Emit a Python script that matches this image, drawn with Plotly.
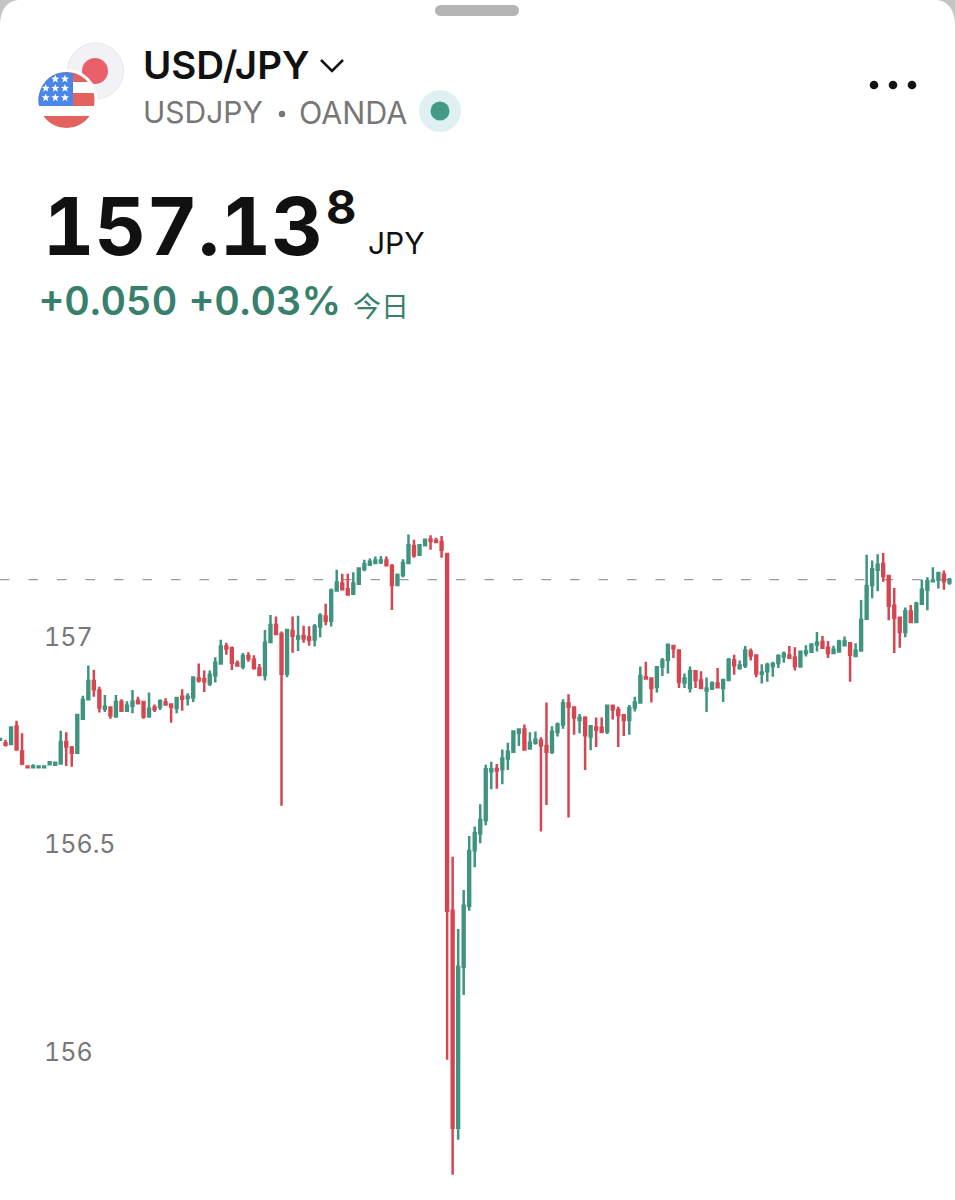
import numpy as np
import plotly.graph_objects as go

W = 955
H = 1200

#chart values, one candle per index
candle_index = list(range(173))

opens = [156.752, 156.744, 156.742, 156.784, 156.724, 156.688, 156.686, 156.686, 156.686, 156.693,
         156.692, 156.695, 156.747, 156.733, 156.721, 156.803, 156.850, 156.894, 156.871, 156.827,
         156.830, 156.808, 156.843, 156.822, 156.834, 156.846, 156.843, 156.808, 156.830, 156.832,
         156.842, 156.837, 156.829, 156.856, 156.853, 156.854, 156.900, 156.898, 156.888, 156.907,
         156.936, 156.977, 156.973, 156.936, 156.929, 156.954, 156.945, 156.924, 156.908, 156.988,
         157.029, 157.007, 156.911, 157.014, 156.996, 157.002, 156.999, 156.994, 157.025, 157.049,
         157.039, 157.112, 157.129, 157.115, 157.104, 157.128, 157.164, 157.174, 157.178, 157.180,
         157.184, 157.171, 157.125, 157.149, 157.178, 157.219, 157.198, 157.221, 157.235, 157.232,
         157.229, 157.200, 156.340, 155.817, 156.205, 156.352, 156.486, 156.527, 156.559, 156.676,
         156.682, 156.681, 156.707, 156.723, 156.769, 156.777, 156.731, 156.745, 156.750, 156.737,
         156.723, 156.771, 156.789, 156.840, 156.830, 156.800, 156.805, 156.760, 156.782, 156.781,
         156.772, 156.834, 156.824, 156.811, 156.800, 156.830, 156.842, 156.903, 156.900, 156.880,
         156.929, 156.945, 156.978, 156.967, 156.890, 156.877, 156.917, 156.895, 156.871, 156.876,
         156.888, 156.877, 156.896, 156.943, 156.925, 156.931, 156.965, 156.955, 156.911, 156.917,
         156.930, 156.937, 156.953, 156.955, 156.950, 156.929, 156.961, 156.964, 156.982, 156.988,
         156.974, 156.961, 156.965, 156.980, 156.985, 156.954, 156.967, 157.044, 157.125, 157.162,
         157.176, 157.147, 157.075, 157.046, 157.012, 157.061, 157.036, 157.080, 157.114, 157.134,
         157.138, 157.150, 157.131]

highs = [156.756, 156.752, 156.784, 156.798, 156.768, 156.689, 156.693, 156.690, 156.691, 156.700,
         156.698, 156.774, 156.770, 156.737, 156.814, 156.858, 156.931, 156.921, 156.880, 156.860,
         156.832, 156.860, 156.850, 156.845, 156.872, 156.856, 156.845, 156.866, 156.837, 156.850,
         156.852, 156.840, 156.854, 156.874, 156.864, 156.902, 156.936, 156.919, 156.919, 156.951,
         156.993, 156.986, 156.977, 156.943, 156.961, 156.963, 156.956, 156.935, 157.017, 157.053,
         157.049, 157.013, 157.019, 157.049, 157.051, 157.027, 157.026, 157.031, 157.057, 157.080,
         157.117, 157.162, 157.152, 157.152, 157.156, 157.166, 157.186, 157.189, 157.194, 157.195,
         157.194, 157.176, 157.153, 157.187, 157.247, 157.234, 157.223, 157.237, 157.245, 157.239,
         157.243, 157.200, 156.470, 156.296, 156.390, 156.520, 156.543, 156.597, 156.692, 156.699,
         156.694, 156.729, 156.745, 156.774, 156.780, 156.789, 156.770, 156.772, 156.758, 156.842,
         156.785, 156.794, 156.850, 156.862, 156.832, 156.814, 156.809, 156.788, 156.806, 156.806,
         156.836, 156.836, 156.832, 156.813, 156.836, 156.856, 156.929, 156.940, 156.900, 156.929,
         156.949, 156.983, 156.981, 156.967, 156.912, 156.929, 156.917, 156.917, 156.902, 156.893,
         156.925, 156.896, 156.949, 156.957, 156.943, 156.978, 156.972, 156.955, 156.934, 156.938,
         156.940, 156.958, 156.965, 156.978, 156.975, 156.967, 156.980, 156.983, 157.012, 157.002,
         156.990, 156.979, 156.993, 157.001, 156.987, 156.985, 157.089, 157.198, 157.184, 157.199,
         157.202, 157.149, 157.118, 157.049, 157.071, 157.077, 157.085, 157.138, 157.144, 157.168,
         157.156, 157.160, 157.142]

lows = [156.751, 156.736, 156.740, 156.729, 156.691, 156.685, 156.684, 156.684, 156.684, 156.691,
        156.691, 156.695, 156.689, 156.687, 156.721, 156.801, 156.850, 156.856, 156.818, 156.819,
        156.803, 156.808, 156.821, 156.822, 156.816, 156.840, 156.803, 156.808, 156.819, 156.824,
        156.835, 156.793, 156.816, 156.822, 156.835, 156.843, 156.890, 156.867, 156.882, 156.890,
        156.935, 156.957, 156.920, 156.930, 156.922, 156.940, 156.921, 156.906, 156.895, 156.986,
        157.005, 156.593, 156.903, 156.962, 156.966, 156.986, 156.979, 156.977, 156.999, 157.028,
        157.025, 157.110, 157.113, 157.101, 157.103, 157.126, 157.158, 157.173, 157.176, 157.176,
        157.172, 157.065, 157.125, 157.144, 157.176, 157.191, 157.197, 157.219, 157.210, 157.227,
        157.191, 155.981, 155.704, 155.788, 156.137, 156.340, 156.445, 156.503, 156.546, 156.633,
        156.634, 156.645, 156.679, 156.723, 156.737, 156.729, 156.730, 156.740, 156.531, 156.595,
        156.718, 156.760, 156.779, 156.565, 156.764, 156.768, 156.679, 156.727, 156.735, 156.769,
        156.766, 156.801, 156.735, 156.761, 156.764, 156.820, 156.840, 156.898, 156.842, 156.866,
        156.906, 156.912, 156.949, 156.877, 156.877, 156.866, 156.877, 156.876, 156.819, 156.872,
        156.877, 156.843, 156.895, 156.909, 156.921, 156.925, 156.943, 156.903, 156.888, 156.892,
        156.904, 156.925, 156.938, 156.949, 156.919, 156.929, 156.953, 156.961, 156.965, 156.974,
        156.949, 156.959, 156.963, 156.979, 156.892, 156.954, 156.967, 157.044, 157.093, 157.110,
        157.133, 157.040, 156.961, 156.974, 156.999, 157.035, 157.035, 157.080, 157.064, 157.133,
        157.117, 157.114, 157.126]

closes = [156.754, 156.740, 156.782, 156.729, 156.695, 156.686, 156.688, 156.688, 156.688, 156.698,
          156.697, 156.747, 156.736, 156.721, 156.812, 156.848, 156.894, 156.874, 156.830, 156.832,
          156.811, 156.843, 156.822, 156.834, 156.844, 156.840, 156.808, 156.827, 156.826, 156.845,
          156.837, 156.832, 156.853, 156.851, 156.856, 156.902, 156.895, 156.893, 156.909, 156.938,
          156.977, 156.972, 156.938, 156.931, 156.954, 156.948, 156.925, 156.908, 156.986, 157.029,
          157.007, 156.911, 157.017, 157.003, 157.001, 156.996, 156.993, 157.025, 157.051, 157.039,
          157.112, 157.131, 157.115, 157.102, 157.129, 157.165, 157.175, 157.181, 157.184, 157.184,
          157.173, 157.125, 157.149, 157.178, 157.221, 157.197, 157.221, 157.234, 157.231, 157.229,
          157.210, 156.340, 155.817, 156.205, 156.352, 156.484, 156.527, 156.559, 156.681, 156.681,
          156.678, 156.707, 156.723, 156.772, 156.777, 156.729, 156.745, 156.752, 156.739, 156.723,
          156.771, 156.789, 156.840, 156.832, 156.806, 156.805, 156.763, 156.785, 156.777, 156.771,
          156.834, 156.826, 156.812, 156.800, 156.828, 156.842, 156.906, 156.900, 156.877, 156.927,
          156.943, 156.981, 156.973, 156.892, 156.900, 156.917, 156.896, 156.877, 156.876, 156.888,
          156.879, 156.896, 156.945, 156.932, 156.931, 156.967, 156.955, 156.912, 156.914, 156.933,
          156.935, 156.954, 156.959, 156.950, 156.930, 156.964, 156.965, 156.982, 156.986, 156.974,
          156.961, 156.969, 156.989, 156.989, 156.957, 156.967, 157.041, 157.123, 157.163, 157.174,
          157.147, 157.075, 157.046, 157.012, 157.062, 157.036, 157.080, 157.114, 157.134, 157.136,
          157.154, 157.134, 157.138]

price_ticks = [156, 156.5, 157]
tick_labels = ["156", "156.5", "157"]
last_price = 157.138

GREEN = "#3f9480"
RED = "#d64550"
TEXT_GREEN = "#38806c"
GREY = "#777777"
INK = "#111111"
FLAG_RED = "#e2625e"


#px -> paper, everything in the header is placed by screenshot pixels
def px(x):
    return x / W


def py(y):
    return 1 - y / H


def circle(cx, cy, r, fill, line=None):
    return dict(type="circle", xref="paper", yref="paper", x0=px(cx - r), x1=px(cx + r),
                y0=py(cy + r), y1=py(cy - r), fillcolor=fill,
                line=dict(color=line or fill, width=1 if line else 0), layer="above")


def poly(points, fill):
    path = "M " + " L ".join(f"{px(a):.5f},{py(b):.5f}" for a, b in points) + " Z"
    return dict(type="path", xref="paper", yref="paper", path=path, fillcolor=fill,
                line=dict(width=0), layer="above")


#slice of the round flag between two heights
def band(cx, cy, r, y0, y1, fill, xmax=None):
    ys = np.linspace(y0, y1, 20)
    half = np.sqrt(np.maximum(r ** 2 - (ys - cy) ** 2, 0))
    right = cx + half
    if xmax is not None:
        right = np.minimum(right, xmax)
    pts = list(zip(cx - half, ys)) + list(zip(right[::-1], ys[::-1]))
    return poly(pts, fill)


def star(cx, cy, r, fill):
    ang = -np.pi / 2 + np.arange(10) * np.pi / 5
    rad = np.where(np.arange(10) % 2 == 0, r, r * 0.42)
    return poly(list(zip(cx + rad * np.cos(ang), cy + rad * np.sin(ang))), fill)


def label(x, y, text, size, color=INK, family="Inter", weight=400, anchor="left"):
    return dict(xref="paper", yref="paper", x=px(x), y=py(y), text=text, showarrow=False,
                xanchor=anchor, yanchor="middle", borderpad=0,
                font=dict(size=size, color=color, family=family, weight=weight))


fig = go.Figure()

fig.add_trace(go.Candlestick(
    x=candle_index,
    open=opens,
    high=highs,
    low=lows,
    close=closes,
    increasing=dict(line=dict(color=GREEN, width=2.5), fillcolor=GREEN),
    decreasing=dict(line=dict(color=RED, width=2.5), fillcolor=RED),
    whiskerwidth=0,
    showlegend=False,
    hoverinfo="skip",
))

#last price line
fig.add_shape(type="line", xref="paper", yref="y", x0=0, x1=1, y0=last_price, y1=last_price,
              line=dict(color="#9a9a9a", width=1.2, dash="9.5px,19px"), layer="below")

shapes = []

#grabber and card corners
shapes.append(dict(type="rect", xref="paper", yref="paper", x0=px(440.5), x1=px(513.5), y0=py(16), y1=py(5),
                   fillcolor="#b4b4b4", line=dict(width=0), layer="above"))
shapes.append(circle(440.5, 10.5, 5.5, "#b4b4b4"))
shapes.append(circle(513.5, 10.5, 5.5, "#b4b4b4"))
shapes.append(dict(type="path", xref="paper", yref="paper",
                   path=f"M {px(0)},{py(24)} Q {px(1)},{py(2)} {px(18)},{py(0)} L {px(0)},{py(0)} Z",
                   fillcolor="#c4c4c4", line=dict(width=0), layer="above"))
shapes.append(dict(type="path", xref="paper", yref="paper",
                   path=f"M {px(955)},{py(24)} Q {px(954)},{py(2)} {px(937)},{py(0)} L {px(955)},{py(0)} Z",
                   fillcolor="#c4c4c4", line=dict(width=0), layer="above"))

#japan flag
shapes.append(circle(95.5, 71, 28, "#f1f1f6", "#e6e6ec"))
shapes.append(circle(95, 71, 13, "#e8606a"))

#us flag
shapes.append(circle(66.5, 100, 31, "#ffffff"))
shapes.append(circle(66.5, 100, 28, "#ffffff"))
shapes.append(band(66.5, 100, 28, 72, 82, FLAG_RED))
shapes.append(band(66.5, 100, 28, 93, 106, FLAG_RED))
shapes.append(band(66.5, 100, 28, 116, 128, FLAG_RED))
shapes.append(band(66.5, 100, 28, 72, 106, "#4a86e8", xmax=73))
for sx, sy in [(55.3, 79), (65, 79), (45.7, 88.3), (55.3, 88.3), (65, 88.3), (45.7, 97.7), (55.3, 97.7), (65, 97.7)]:
    shapes.append(star(sx, sy, 4.3, "#ffffff"))

#status dot
shapes.append(circle(440, 111, 21, "#dff0f3"))
shapes.append(circle(440, 111, 9.5, "#439b85"))
shapes.append(circle(282, 114, 3.2, GREY))

#chevron
shapes.append(dict(type="path", xref="paper", yref="paper",
                   path=f"M {px(321)},{py(60)} L {px(332)},{py(71)} L {px(343)},{py(60)}",
                   line=dict(color=INK, width=2.5), layer="above"))

#three dots menu
for cx in [874, 893, 912]:
    shapes.append(circle(cx, 85, 4.3, INK))

for s in shapes:
    fig.add_shape(**s)

texts = [
    label(142, 65, "USD/JPY", 38.5, weight=600),
    label(142, 112, "USDJPY", 30, color=GREY),
    label(298, 112, "OANDA", 30.5, color=GREY),
    label(68, 225, "157.13", 80, weight=700),
    label(325, 207, "8", 47, weight=700),
    label(367, 243, "JPY", 30),
    label(37, 301, "+0.050", 39.5, color=TEXT_GREEN, weight=600),
    label(187, 301, "+0.03%", 39.5, color=TEXT_GREEN, weight=600),
    label(352, 305, "今日", 28, color=TEXT_GREEN, family="Noto Sans CJK SC"),
]

for t in texts:
    fig.add_annotation(**t)

fig.update_xaxes(range=[0, W / 5.52], visible=False, rangeslider_visible=False, fixedrange=True)
fig.update_yaxes(
    range=[155.643, 158.535],
    tickvals=price_ticks,
    ticktext=tick_labels,
    ticks="inside",
    ticklen=46,
    tickcolor="rgba(0,0,0,0)",
    ticklabelposition="inside",
    tickfont=dict(size=25, color="#777777", family="Inter"),
    showgrid=False,
    zeroline=False,
    showline=False,
    fixedrange=True,
)

fig.update_layout(
    width=W,
    height=H,
    margin=dict(l=0, r=0, t=0, b=0),
    paper_bgcolor="white",
    plot_bgcolor="white",
    boxgap=0.52,
    showlegend=False,
)

#tabular digits like the app, then redraw so plotly measures them
post = """
document.body.style.margin='0';document.body.style.overflow='hidden';
var st=document.createElement('style');st.textContent='text{font-feature-settings:"tnum" 1;}';
document.head.appendChild(st);
Plotly.redraw(document.getElementById('{plot_id}'));
"""
fig.write_html("out.html", config=dict(displayModeBar=False), post_script=post)
